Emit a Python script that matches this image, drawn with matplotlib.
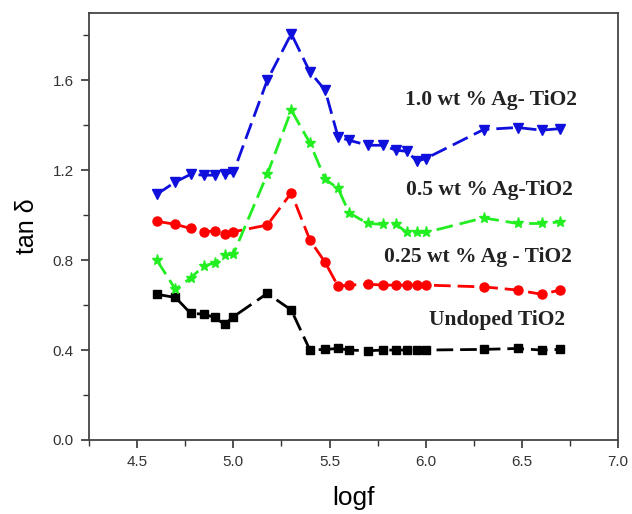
import numpy as np
import matplotlib.pyplot as plt
from matplotlib.ticker import MultipleLocator

# 频率 (log f)
logf = np.log10([4e4, 5e4, 6e4, 7e4, 8e4, 9e4, 1e5, 1.5e5, 2e5, 2.5e5, 3e5, 3.5e5,
                 4e5, 5e5, 6e5, 7e5, 8e5, 9e5, 1e6, 2e6, 3e6, 4e6, 5e6])

# tan δ 数据
undoped = [0.648, 0.634, 0.563, 0.560, 0.545, 0.514, 0.548, 0.652, 0.578, 0.400, 0.403, 0.407,
           0.400, 0.397, 0.400, 0.400, 0.400, 0.400, 0.400, 0.403, 0.407, 0.400, 0.403]
ag025 = [0.973, 0.959, 0.941, 0.926, 0.930, 0.916, 0.926, 0.956, 1.099, 0.889, 0.790, 0.684,
         0.689, 0.693, 0.689, 0.689, 0.689, 0.689, 0.689, 0.681, 0.667, 0.648, 0.667]
ag05 = [0.800, 0.670, 0.721, 0.773, 0.788, 0.822, 0.827, 1.182, 1.467, 1.321, 1.160, 1.119,
        1.010, 0.963, 0.959, 0.959, 0.923, 0.923, 0.923, 0.988, 0.963, 0.963, 0.970]
ag10 = [1.093, 1.148, 1.182, 1.178, 1.178, 1.185, 1.190, 1.600, 1.807, 1.637, 1.556, 1.348,
        1.333, 1.311, 1.311, 1.289, 1.284, 1.240, 1.252, 1.381, 1.390, 1.378, 1.385]

labels = ["Undoped TiO2", "0.25 wt % Ag - TiO2", "0.5 wt % Ag-TiO2", "1.0 wt % Ag- TiO2"]
label_pos = [(6.37, 0.533), (6.27, 0.813), (6.33, 1.111), (6.34, 1.511)]

plt.rcParams['font.family'] = ['Liberation Sans', 'DejaVu Sans']

fig = plt.figure(figsize=(6.32, 5.14), dpi=100)
ax = fig.add_axes([0.141, 0.144, 0.837, 0.831])

series = [
    (undoped, 'black', 's', 5.5),
    (ag025, 'red', 'o', 6.5),
    (ag05, '#22ee22', '*', 8),
    (ag10, '#1010dd', 'v', 7),
]
for vals, c, m, ms in series:
    ax.plot(logf, vals, color=c, lw=2.0, linestyle=(0, (6, 2.5)),
            marker=m, markersize=ms, markeredgecolor=c, markerfacecolor=c)

for txt, (x, y) in zip(labels, label_pos):
    ax.text(x, y, txt, ha='center', va='center', fontsize=15.5, fontweight='bold',
            family=['Liberation Serif', 'DejaVu Serif'], color='#222222')

ax.set_xlim(4.25, 7.0)
ax.set_ylim(0.0, 1.9)
ax.xaxis.set_major_locator(MultipleLocator(0.5))
ax.xaxis.set_minor_locator(MultipleLocator(0.25))
ax.yaxis.set_major_locator(MultipleLocator(0.4))
ax.yaxis.set_minor_locator(MultipleLocator(0.2))
ax.tick_params(which='major', direction='out', length=6, width=1.2, labelsize=11,
               colors='#333333', pad=5)
ax.tick_params(which='minor', direction='out', length=4, width=1.0, colors='#333333')
for s in ax.spines.values():
    s.set_color('#444444')
    s.set_linewidth(1.3)

ax.set_xlabel('logf', fontsize=19, labelpad=12)
ax.set_ylabel('tan δ', fontsize=18, labelpad=10)

fig.savefig('out.png', dpi=100)
